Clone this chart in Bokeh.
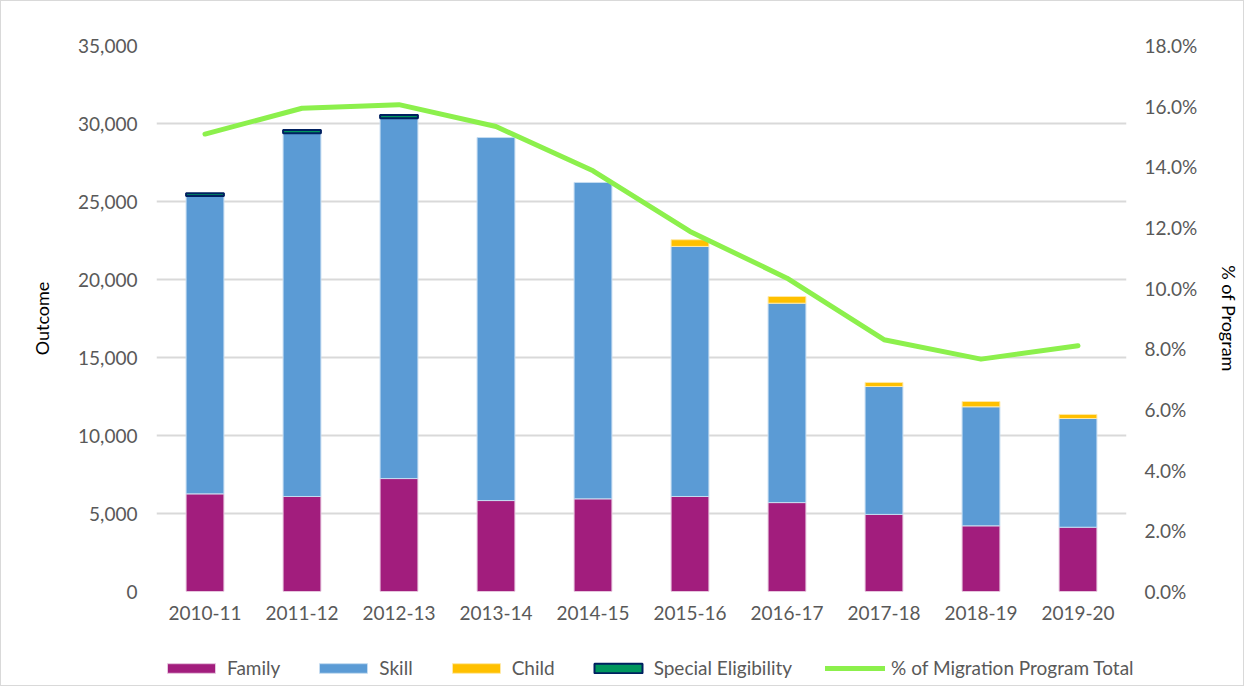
from bokeh.plotting import figure
from bokeh.layouts import column
from bokeh.models import (ColumnDataSource, FactorRange, Range1d, LinearAxis,
                          NumeralTickFormatter, Legend, LegendItem, FixedTicker)
from bokeh.embed import file_html
from bokeh.resources import INLINE

# ---- data ----
years = ["2010-11", "2011-12", "2012-13", "2013-14", "2014-15",
         "2015-16", "2016-17", "2017-18", "2018-19", "2019-20"]
family = [6260, 6090, 7240, 5830, 5940, 6090, 5700, 4940, 4210, 4120]
skill = [19100, 23290, 23100, 23270, 20280, 16030, 12780, 8200, 7630, 6970]
child = [0, 0, 0, 0, 0, 430, 430, 260, 340, 260]
special = [170, 210, 210, 0, 0, 0, 0, 0, 0, 0]
pct_total = [0.1508, 0.1593, 0.1605, 0.1533, 0.1387, 0.1187, 0.1033, 0.0830, 0.0766, 0.0810]

left_ticks = [0, 5000, 10000, 15000, 20000, 25000, 30000, 35000]
right_ticks = [0.0, 0.02, 0.04, 0.06, 0.08, 0.10, 0.12, 0.14, 0.16, 0.18]
labels = ["Family", "Skill", "Child", "Special Eligibility", "% of Migration Program Total"]

FONT = "Lato"
TICK_COLOR = "#595959"
fills = ["#A21D7D", "#5B9BD5", "#FFC000", "#00965E"]
lines = ["#E6C6DE", "#C5DCF1", "#FFE9A6", "#002060"]
lws = [1, 1, 1, 2]
LINE_COLOR = "#8CF04C"

src = ColumnDataSource(dict(
    year=years, family=family, skill=skill, child=child, special=special,
    pct=pct_total,
    child_la=[1 if v > 0 else 0 for v in child],
    special_la=[1 if v > 0 else 0 for v in special],
))

W = 1242
p = figure(x_range=FactorRange(*years), y_range=Range1d(0, 35000),
           width=W, height=628, output_backend="svg", toolbar_location=None,
           min_border_left=155, min_border_right=117, min_border_top=44,
           min_border_bottom=38)
p.frame_align = False
p.extra_y_ranges = {"pct": Range1d(0, 0.18)}
p.outline_line_color = None
p.background_fill_color = "white"
p.border_fill_color = "white"

stack = ["family", "skill", "child", "special"]
lalpha = [1.0, 1.0, "child_la", "special_la"]
rs = p.vbar_stack(stack, x="year", width=0.39, source=src,
                  fill_color=fills, line_color=lines, line_width=lws,
                  line_alpha=lalpha)

line_r = p.line(x="year", y="pct", source=src, y_range_name="pct",
                line_color=LINE_COLOR, line_width=5, line_cap="round",
                line_join="round")

# left axis
ya = p.yaxis[0]
ya.ticker = FixedTicker(ticks=left_ticks)
ya.formatter = NumeralTickFormatter(format="0,0")
ya.axis_label = "Outcome"

# right axis
ax2 = LinearAxis(y_range_name="pct", ticker=FixedTicker(ticks=right_ticks),
                 formatter=NumeralTickFormatter(format="0.0%"),
                 axis_label="% of Program")
p.add_layout(ax2, "right")

for ax in [ya, ax2]:
    ax.axis_line_color = None
    ax.major_tick_line_color = None
    ax.minor_tick_line_color = None
    ax.major_tick_out = 0
    ax.major_tick_in = 0
    ax.major_label_standoff = 19
    ax.axis_label_standoff = 22
    ax.major_label_text_font = FONT
    ax.major_label_text_font_size = "19px"
    ax.major_label_text_color = TICK_COLOR
    ax.axis_label_text_font = FONT
    ax.axis_label_text_font_size = "18px"
    ax.axis_label_text_font_style = "normal"
    ax.axis_label_text_color = "#000000"
ax2.major_label_standoff = 18
ax2.axis_label_standoff = 18

xa = p.xaxis[0]
xa.axis_line_color = None
xa.major_tick_line_color = None
xa.minor_tick_line_color = None
xa.major_tick_out = 0
xa.major_tick_in = 0
xa.major_label_standoff = 14
xa.major_label_text_font = FONT
xa.major_label_text_font_size = "19px"
xa.major_label_text_color = TICK_COLOR

p.xgrid.grid_line_color = None
p.ygrid.ticker = FixedTicker(ticks=left_ticks)
p.ygrid.grid_line_color = "#D9D9D9"
p.ygrid.grid_line_width = 2

# ---- legend strip: a small figure with hidden proxy renderers ----
lf = figure(width=W, height=56, output_backend="svg", toolbar_location=None,
            x_range=FactorRange(*years), y_range=Range1d(-2, -1),
            min_border=0, min_border_left=0, min_border_right=0,
            min_border_top=0, min_border_bottom=0,
            x_axis_location=None, y_axis_location=None)
lf.frame_align = False
lf.outline_line_color = None
lf.xgrid.visible = False
lf.ygrid.visible = False
lf.background_fill_color = "white"
lf.border_fill_color = "white"

proxies = []
for i, name in enumerate(stack):
    proxies.append(lf.vbar(x="year", top=name, width=0.39, source=src,
                           fill_color=fills[i], line_color=lines[i],
                           line_width=lws[i]))
proxies.append(lf.line(x="year", y="pct", source=src, line_color=LINE_COLOR,
                       line_width=5, line_cap="round"))
for r in proxies:
    r.visible = False

items = [LegendItem(label=labels[i], renderers=[proxies[i]]) for i in range(5)]
legend = Legend(items=items, orientation="horizontal", location=(160, 6),
                glyph_width=60, glyph_height=12, label_standoff=6, spacing=33,
                padding=0, margin=0, border_line_color=None,
                background_fill_alpha=0, label_height=20,
                inactive_fill_alpha=0,
                label_text_font=FONT, label_text_font_size="19px",
                label_text_color=TICK_COLOR)
lf.add_layout(legend)

layout = column(p, lf, spacing=0,
                styles={"border": "1.5px solid #D9D9D9"})

open("out.html", "w").write(file_html(layout, INLINE))
